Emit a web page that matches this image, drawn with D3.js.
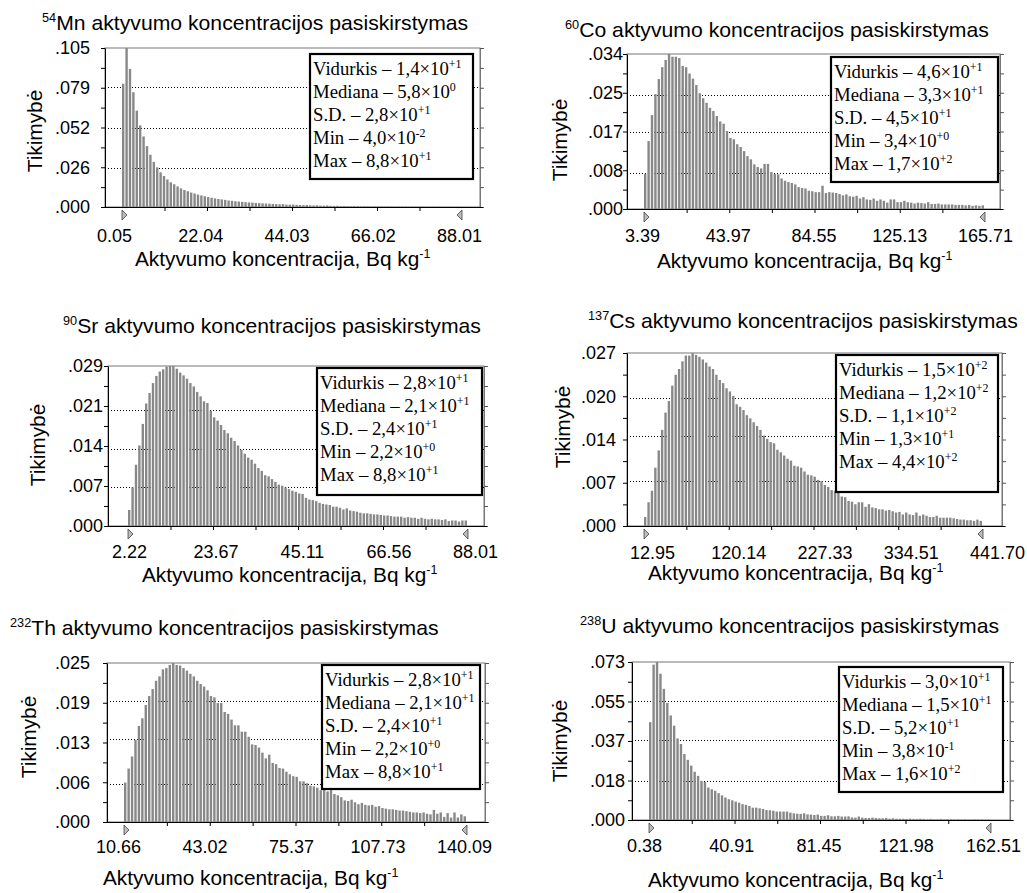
<!DOCTYPE html>
<html><head><meta charset="utf-8">
<script src="https://cdn.jsdelivr.net/npm/d3@7/dist/d3.min.js"></script>
<style>
body{margin:0;background:#fff}
svg{display:block}
text{font-family:"Liberation Sans",Arial,sans-serif;fill:#000}
.serif{font-family:"Liberation Serif","Times New Roman",serif}
</style>
</head><body>
<svg id="chart" width="1027" height="893"></svg>
<script>
// ---------- DATA ----------
const mnValues = [.0814,.1050,.0912,.0758,.0636,.0539,.0466,.0402,.0345,.0298,
.0262,.0229,.0205,.0182,.0163,.0150,.0136,.0123,.0112,.0104,
.0095,.0089,.0082,.0076,.0071,.0066,.0061,.0057,.0053,.0050,
.0047,.0043,.0041,.0038,.0036,.0034,.0032,.0030,.0029,.0027,
.0026,.0024,.0023,.0022,.0020,.0019,.0018,.0019,.0016,.0015,
.0016,.0014,.0013,.0012,.0013,.0011,.0010,.0011,.0009,.0009,
.0010,.0008,.0007,.0008,.0006,.0007,.0006,.0005,.0006,.0005,
.0004,.0005,.0004,.0003,.0004,.0003,.0004,.0002,.0003,.0003,
.0002,.0003,.0002,.0002,.0001,.0002,.0002,.0001,.0002,.0001,
.0001,.0002,.0001,.0001,.0000,.0001,.0001,.0000,.0001,.0001];
const mnXTicks = ["0.05","22.04","44.03","66.02","88.01"];
const mnYTicks = [".000",".026",".052",".079",".105"];
const mnStats = [["Vidurkis","1,4","+1"],["Mediana","5,8","0"],["S.D.","2,8","+1"],["Min","4,0","-2"],["Max","8,8","+1"]];

const coValues = [.0077,.0149,.0206,.0252,.0285,.0311,.0327,.0340,.0334,.0334,
.0331,.0314,.0311,.0297,.0286,.0272,.0254,.0243,.0233,.0222,
.0215,.0204,.0192,.0187,.0171,.0156,.0153,.0142,.0136,.0127,
.0116,.0109,.0098,.0092,.0089,.0099,.0099,.0081,.0077,.0076,
.0067,.0062,.0059,.0057,.0054,.0048,.0046,.0045,.0040,.0039,
.0037,.0037,.0051,.0035,.0037,.0036,.0035,.0033,.0030,.0032,
.0028,.0027,.0029,.0023,.0026,.0021,.0020,.0023,.0018,.0021,
.0018,.0014,.0021,.0021,.0015,.0015,.0018,.0015,.0014,.0012,
.0014,.0013,.0012,.0015,.0011,.0011,.0012,.0010,.0010,.0010,
.0010,.0009,.0009,.0009,.0008,.0009,.0007,.0008,.0007,.0008];
const coXTicks = ["3.39","43.97","84.55","125.13","165.71"];
const coYTicks = [".000",".008",".017",".025",".034"];
const coStats = [["Vidurkis","4,6","+1"],["Mediana","3,3","+1"],["S.D.","4,5","+1"],["Min","3,4","+0"],["Max","1,7","+2"]];

const srValues = [.0029,.0070,.0111,.0146,.0185,.0222,.0241,.0259,.0272,.0280,
.0284,.0289,.0290,.0290,.0285,.0278,.0273,.0267,.0259,.0253,
.0243,.0235,.0226,.0223,.0209,.0197,.0191,.0183,.0174,.0168,
.0160,.0154,.0146,.0138,.0131,.0124,.0120,.0113,.0105,.0100,
.0092,.0090,.0085,.0080,.0075,.0073,.0070,.0067,.0064,.0062,
.0059,.0058,.0051,.0048,.0047,.0045,.0042,.0040,.0039,.0038,
.0035,.0035,.0033,.0030,.0032,.0028,.0027,.0026,.0024,.0023,
.0023,.0022,.0021,.0021,.0020,.0019,.0019,.0018,.0017,.0017,
.0017,.0015,.0016,.0015,.0015,.0013,.0015,.0013,.0012,.0013,
.0012,.0012,.0011,.0012,.0009,.0010,.0010,.0008,.0010,.0010];
const srXTicks = ["2.22","23.67","45.11","66.56","88.01"];
const srYTicks = [".000",".007",".014",".021",".029"];
const srStats = [["Vidurkis","2,8","+1"],["Mediana","2,1","+1"],["S.D.","2,4","+1"],["Min","2,2","+0"],["Max","8,8","+1"]];

const csValues = [.0014,.0037,.0055,.0091,.0118,.0150,.0177,.0195,.0219,.0236,
.0245,.0257,.0266,.0266,.0270,.0267,.0264,.0260,.0255,.0249,
.0245,.0236,.0228,.0223,.0215,.0210,.0203,.0190,.0186,.0181,
.0173,.0168,.0162,.0156,.0150,.0141,.0136,.0131,.0129,.0119,
.0115,.0110,.0105,.0102,.0094,.0093,.0091,.0085,.0080,.0079,
.0077,.0072,.0070,.0064,.0061,.0056,.0055,.0054,.0046,.0045,
.0039,.0038,.0034,.0037,.0037,.0030,.0034,.0029,.0028,.0026,
.0026,.0024,.0025,.0023,.0021,.0022,.0018,.0021,.0018,.0017,
.0021,.0016,.0018,.0016,.0014,.0014,.0016,.0013,.0013,.0013,
.0013,.0012,.0011,.0010,.0010,.0009,.0009,.0008,.0010,.0008];
const csXTicks = ["12.95","120.14","227.33","334.51","441.70"];
const csYTicks = [".000",".007",".014",".020",".027"];
const csStats = [["Vidurkis","1,5","+2"],["Mediana","1,2","+2"],["S.D.","1,1","+2"],["Min","1,3","+1"],["Max","4,4","+2"]];

const thValues = [.0062,.0084,.0103,.0129,.0151,.0163,.0184,.0198,.0209,.0222,
.0229,.0240,.0242,.0247,.0250,.0247,.0246,.0242,.0238,.0233,
.0229,.0222,.0217,.0213,.0207,.0198,.0196,.0187,.0187,.0173,
.0170,.0161,.0152,.0152,.0142,.0142,.0134,.0122,.0121,.0117,
.0109,.0100,.0106,.0093,.0091,.0085,.0084,.0079,.0075,.0072,
.0071,.0064,.0064,.0061,.0057,.0056,.0054,.0050,.0052,.0048,
.0050,.0044,.0042,.0039,.0034,.0033,.0035,.0031,.0028,.0030,
.0027,.0026,.0027,.0024,.0025,.0022,.0021,.0020,.0020,.0019,
.0018,.0018,.0017,.0016,.0015,.0015,.0014,.0015,.0013,.0012,
.0019,.0013,.0015,.0008,.0014,.0007,.0015,.0007,.0012,.0009];
const thXTicks = ["10.66","43.02","75.37","107.73","140.09"];
const thYTicks = [".000",".006",".013",".019",".025"];
const thStats = [["Vidurkis","2,8","+1"],["Mediana","2,1","+1"],["S.D.","2,4","+1"],["Min","2,2","+0"],["Max","8,8","+1"]];

const uValues = [.0452,.0718,.0730,.0676,.0606,.0541,.0483,.0436,.0377,.0351,
.0305,.0278,.0251,.0223,.0204,.0181,.0176,.0150,.0142,.0135,
.0124,.0114,.0104,.0096,.0091,.0085,.0080,.0073,.0070,.0065,
.0057,.0057,.0054,.0051,.0046,.0045,.0043,.0039,.0039,.0039,
.0039,.0034,.0031,.0029,.0028,.0031,.0026,.0025,.0023,.0025,
.0019,.0019,.0022,.0017,.0017,.0019,.0016,.0016,.0017,.0012,
.0011,.0016,.0011,.0009,.0009,.0011,.0009,.0008,.0008,.0009,
.0006,.0008,.0006,.0006,.0006,.0005,.0006,.0005,.0005,.0006,
.0005,.0003,.0005,.0003,.0003,.0005,.0003,.0003,.0003,.0002,
.0003,.0002,.0003,.0002,.0002,.0003,.0002,.0002,.0001,.0002];
const uXTicks = ["0.38","40.91","81.45","121.98","162.51"];
const uYTicks = [".000",".018",".037",".055",".073"];
const uStats = [["Vidurkis","3,0","+1"],["Mediana","1,5","+1"],["S.D.","5,2","+1"],["Min","3,8","-1"],["Max","1,6","+2"]];

const isotopes = [["54","Mn"],["60","Co"],["90","Sr"],["137","Cs"],["232","Th"],["238","U"]];
const titleText = " aktyvumo koncentracijos pasiskirstymas";
const xTitleText = "Aktyvumo koncentracija, Bq kg";
const yTitleText = "Tikimybė";

// ---------- LAYOUT ----------
const layouts = [
 {L:105,R:480,T:48,B:207, bx0:122,bx1:462, lab:[114,459], tx:42,ty:30, xlb:242, xtx:135,xty:266, ytx:35,yty:131, ygap:15, box:[310,54,163,125]},
 {L:627,R:1000,T:54,B:209, bx0:644,bx1:985, lab:[642,985], tx:565,ty:37, xlb:242, xtx:657,xty:268, ytx:560,yty:140, ygap:4, box:[831,57,167,125]},
 {L:108,R:484,T:366,B:526, bx0:128,bx1:468, lab:[129,475], tx:63,ty:333, xlb:558, xtx:142,xty:582, ytx:38,yty:445, ygap:5, box:[317,368,165,127]},
 {L:627,R:1002,T:353,B:526, bx0:644,bx1:983, lab:[652,997], tx:588,ty:328, xlb:559, xtx:648,xty:580, ytx:563,yty:427, ygap:11, box:[836,355,162,137]},
 {L:107,R:485,T:663,B:822, bx0:124,bx1:467, lab:[118,464], tx:10,ty:635, xlb:853, xtx:103,xty:885, ytx:29,yty:737, ygap:17, box:[322,665,158,124]},
 {L:632,R:1010,T:662,B:820, bx0:649,bx1:991, lab:[644,993], tx:580,ty:633, xlb:852, xtx:648,xty:887, ytx:560,yty:741, ygap:7, box:[839,667,164,125]}
];

const panels = [
 {values:mnValues, xTicks:mnXTicks, yTicks:mnYTicks, stats:mnStats},
 {values:coValues, xTicks:coXTicks, yTicks:coYTicks, stats:coStats},
 {values:srValues, xTicks:srXTicks, yTicks:srYTicks, stats:srStats},
 {values:csValues, xTicks:csXTicks, yTicks:csYTicks, stats:csStats},
 {values:thValues, xTicks:thXTicks, yTicks:thYTicks, stats:thStats},
 {values:uValues, xTicks:uXTicks, yTicks:uYTicks, stats:uStats}
];

const svg = d3.select("#chart");
const TITLE_FS = 20, TITLE_SX = 1.06;
const AXT_FS = 20, AXT_SX = 1.04, YT_SX = 1.04;
const TICK_FS = 18;
const LEG_FS = 18, LEG_SX = 1.04;

panels.forEach((p, k) => {
  const lay = layouts[k];
  const g = svg.append("g");
  const xMin = +p.xTicks[0], xMax = +p.xTicks[p.xTicks.length-1];
  const yMax = +p.yTicks[p.yTicks.length-1];
  const x = d3.scaleLinear().domain([xMin, xMax]).range([lay.bx0, lay.bx1]);
  const xLab = d3.scaleLinear().domain([xMin, xMax]).range(lay.lab);
  const y = d3.scaleLinear().domain([0, yMax]).range([lay.B, lay.T]);
  const n = p.values.length, w = (xMax - xMin) / n;

  // frame
  g.append("rect").attr("x", lay.L).attr("y", lay.T).attr("width", lay.R - lay.L).attr("height", lay.B - lay.T)
    .attr("fill", "#fff").attr("stroke", "#777").attr("stroke-width", 1);

  // gridlines at inner major ticks
  const yVals = p.yTicks.map(Number);
  g.selectAll(".grid").data(yVals.slice(1, -1)).enter().append("line")
    .attr("x1", lay.L).attr("x2", lay.R)
    .attr("y1", d => Math.round(y(d)) + 0.5).attr("y2", d => Math.round(y(d)) + 0.5)
    .attr("stroke", "#000").attr("stroke-width", 1).attr("stroke-dasharray", "1,2");

  // bars
  g.selectAll(".bar").data(p.values).enter().append("rect")
    .attr("x", (d, i) => x(xMin + i * w))
    .attr("width", (x(xMin + w) - x(xMin)) * 0.7)
    .attr("y", d => y(d))
    .attr("height", d => y(0) - y(d))
    .attr("fill", "#888");

  // y ticks (eighths)
  const yEighths = d3.range(9).map(i => yMax * i / 8);
  const leftAxis = d3.axisLeft(y).tickValues(yEighths).tickSize(4).tickSizeOuter(0)
    .tickPadding(lay.ygap - 4)
    .tickFormat((d, i) => i % 2 === 0 ? p.yTicks[i / 2] : "");
  const la = g.append("g").attr("transform", `translate(${lay.L},0)`).call(leftAxis);
  la.select(".domain").attr("stroke", "#000");
  la.selectAll("text").style("font-size", TICK_FS + "px").style("font-family", '"Liberation Sans",Arial,sans-serif');

  const rightAxis = d3.axisRight(y).tickValues(yEighths).tickSize(4).tickSizeOuter(0).tickFormat("");
  const ra = g.append("g").attr("transform", `translate(${lay.R},0)`).call(rightAxis);
  ra.select(".domain").attr("stroke", "#777");
  ra.selectAll(".tick line").attr("stroke", "#555");

  // x ticks (inner eighths)
  const xEighths = d3.range(1, 8).map(i => xMin + (xMax - xMin) * i / 8);
  const bottomAxis = d3.axisBottom(x).tickValues(xEighths).tickSize(4).tickSizeOuter(0).tickFormat("");
  const ba = g.append("g").attr("transform", `translate(0,${lay.B})`).call(bottomAxis);
  ba.select(".domain").attr("d", `M${lay.L},0.5H${lay.R + 3}`).attr("stroke", "#000");

  // x tick labels
  const labelAxis = d3.axisBottom(xLab).tickValues(p.xTicks.map(Number)).tickSize(0).tickFormat((d, i) => p.xTicks[i]);
  const lbl = g.append("g").attr("transform", `translate(0,${lay.xlb})`).call(labelAxis);
  lbl.select(".domain").remove();
  lbl.selectAll("text").attr("y", 0).attr("dy", 0)
    .style("font-size", TICK_FS + "px").style("font-family", '"Liberation Sans",Arial,sans-serif');

  // triangles (range markers)
  const tl = x(xMin), tr = x(xMax), b = lay.B;
  g.append("path").attr("d", `M${tl},${b + 3}L${tl + 5},${b + 8}L${tl},${b + 13}Z`)
    .attr("fill", "#bbb").attr("stroke", "#444").attr("stroke-width", 0.8);
  g.append("path").attr("d", `M${tr},${b + 3}L${tr - 5},${b + 8}L${tr},${b + 13}Z`)
    .attr("fill", "#bbb").attr("stroke", "#444").attr("stroke-width", 0.8);

  // legend box
  const [bx, by, bw, bh] = lay.box;
  g.append("rect").attr("x", bx).attr("y", by).attr("width", bw).attr("height", bh)
    .attr("fill", "#fff").attr("stroke", "#000").attr("stroke-width", 2.2);
  p.stats.forEach((s, i) => {
    const t = g.append("text").attr("class", "serif")
      .attr("transform", `translate(${bx + 3},${by + 21 + i * 23}) scale(${LEG_SX},1)`)
      .style("font-size", LEG_FS + "px");
    t.append("tspan").text(`${s[0]} – ${s[1]}×10`);
    t.append("tspan").text(s[2]).style("font-size", "11.5px").attr("dy", -7);
  });

  // title
  const tt = g.append("text").attr("transform", `translate(${lay.tx},${lay.ty}) scale(${TITLE_SX},1)`)
    .style("font-size", TITLE_FS + "px");
  tt.append("tspan").text(isotopes[k][0]).style("font-size", "12px").attr("dy", -8);
  tt.append("tspan").text(isotopes[k][1] + titleText).attr("dy", 8);

  // x axis title
  const xt = g.append("text").attr("transform", `translate(${lay.xtx},${lay.xty}) scale(${AXT_SX},1)`)
    .style("font-size", AXT_FS + "px");
  xt.append("tspan").text(xTitleText);
  xt.append("tspan").text("-1").style("font-size", "12px").attr("dy", -8);

  // y axis title
  g.append("text").attr("transform", `translate(${lay.ytx},${lay.yty}) rotate(-90) scale(${YT_SX},1)`)
    .attr("text-anchor", "middle").attr("dominant-baseline", "central")
    .style("font-size", AXT_FS + "px").text(yTitleText);
});
</script>
</body></html>
